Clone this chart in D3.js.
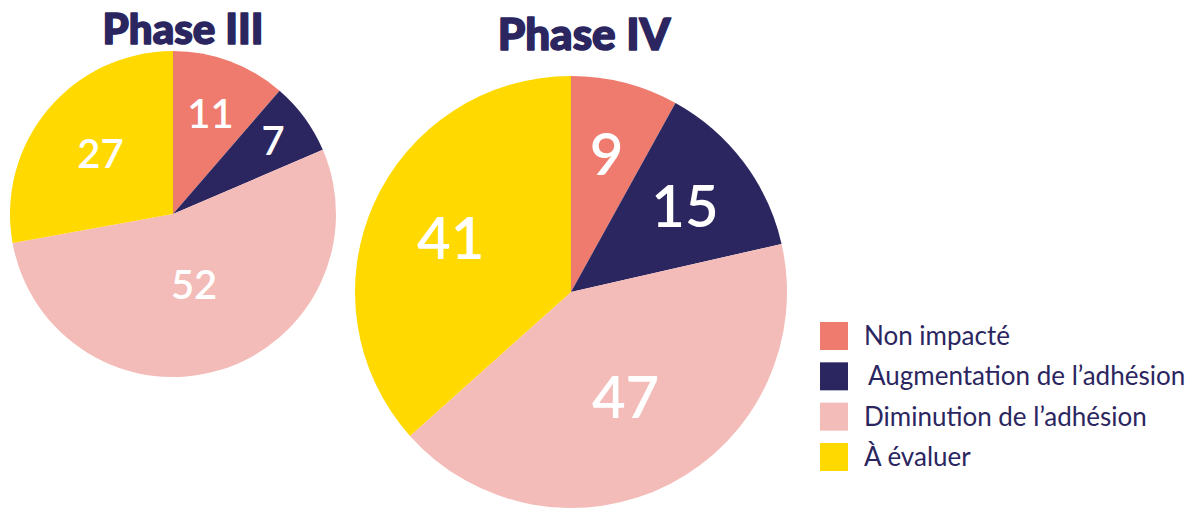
<!DOCTYPE html>
<html lang="fr">
<head>
<meta charset="utf-8">
<title>Phase III / Phase IV</title>
<script src="https://cdn.jsdelivr.net/npm/d3@7"></script>
<style>
  body { margin: 0; background: #fff; }
  svg text { font-family: Lato, "Open Sans", sans-serif; }
</style>
</head>
<body>
<script>
const categories = ["Non impacté", "Augmentation de l’adhésion", "Diminution de l’adhésion", "À évaluer"];
const colors = ["#EE7B6E", "#2B2660", "#F4BCB8", "#FFD900"];
const phase3 = [11, 7, 52, 27];
const phase4 = [9, 15, 47, 41];

// where the numbers sit inside each slice, as a share of the radius
const labelRadius3 = [0.66, 0.76, 0.45, 0.58];
const labelRadius4 = [0.66, 0.66, 0.55, 0.61];

const w = 1199, h = 508;
const svg = d3.select("body").append("svg").attr("width", w).attr("height", h);

const pie = d3.pie().sort(null);

function drawPie(values, title, cx, cy, r, lr, labelSize, tx, ty, titleSize) {
  const g = svg.append("g").attr("transform", "translate(" + cx + "," + cy + ")");
  const arc = d3.arc().innerRadius(0).outerRadius(r);
  const arcs = pie(values);

  g.selectAll("path")
   .data(arcs)
   .enter()
   .append("path")
   .attr("d", arc)
   .attr("fill", (d, i) => colors[i]);

  g.selectAll("text.lbl")
   .data(arcs)
   .enter()
   .append("text")
   .attr("class", "lbl")
   .attr("transform", (d, i) => {
     const a = d3.arc().innerRadius(r * lr[i]).outerRadius(r * lr[i]);
     return "translate(" + a.centroid(d) + ")";
   })
   .attr("text-anchor", "middle")
   .attr("dy", "0.36em")
   .attr("fill", "#fff")
   .style("font-size", labelSize + "px")
   .style("font-weight", 600)
   .text(d => d.data);

  svg.append("text")
     .attr("x", tx)
     .attr("y", ty)
     .attr("text-anchor", "middle")
     .attr("fill", "#2B2660")
     .attr("stroke", "#2B2660")
     .attr("stroke-width", 1.6)
     .attr("stroke-linejoin", "round")
     .style("font-size", titleSize + "px")
     .style("font-weight", 900)
     .text(title);
}

drawPie(phase3, "Phase III", 173, 214, 163, labelRadius3, 40, 183, 44, 42);
drawPie(phase4, "Phase IV", 571, 292, 216, labelRadius4, 58, 584, 50, 44);

// legend
const legend = svg.append("g");
const rowY = d3.scaleLinear().domain([0, 3]).range([322, 443]);

legend.selectAll("rect")
      .data(categories)
      .enter()
      .append("rect")
      .attr("x", 820)
      .attr("y", (d, i) => rowY(i))
      .attr("width", 28)
      .attr("height", 28)
      .attr("fill", (d, i) => colors[i]);

legend.selectAll("text")
      .data(categories)
      .enter()
      .append("text")
      .attr("x", (d, i) => i === 1 ? 868 : 864)
      .attr("y", (d, i) => rowY(i) + 23)
      .attr("fill", "#2B2660")
      .style("font-size", "26px")
      .text(d => d);
</script>
</body>
</html>
